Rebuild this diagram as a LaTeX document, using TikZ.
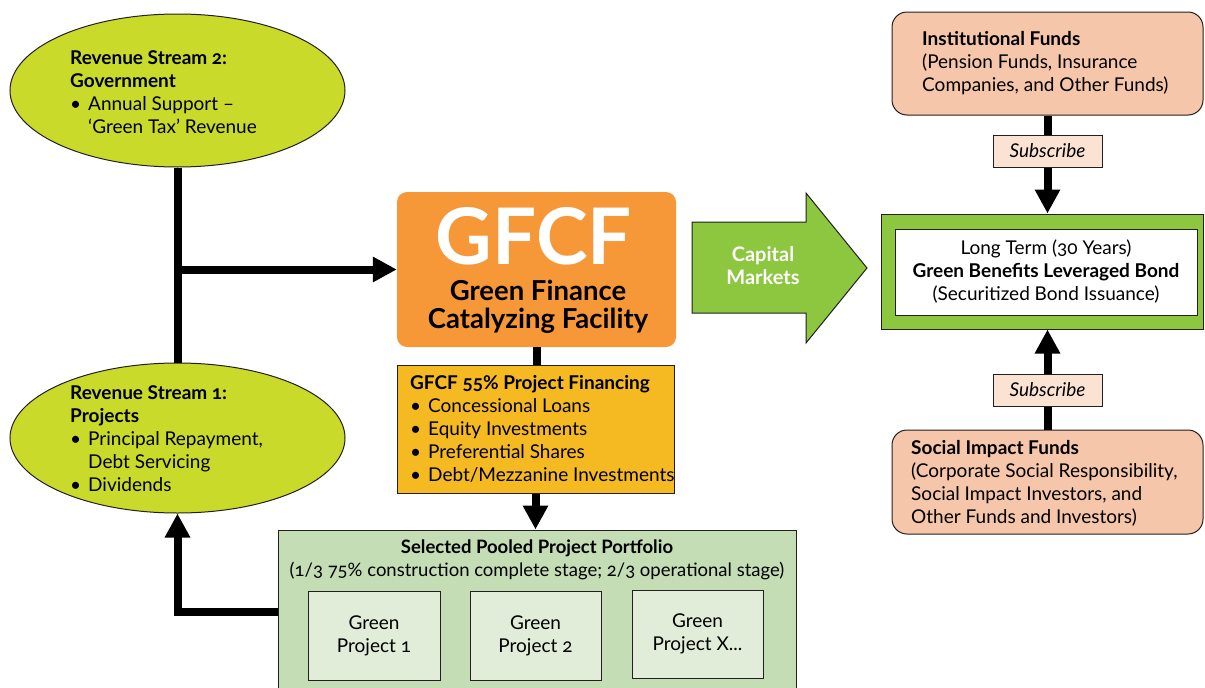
\documentclass[tikz,border=0pt]{standalone}
\usepackage{fontspec}
\setmainfont{Lato}[Numbers=OldStyle]
\usetikzlibrary{shapes.geometric,arrows.meta}

\definecolor{limefill}{HTML}{C9DA2A}
\definecolor{gfcforange}{HTML}{F79838}
\definecolor{finyellow}{HTML}{F5BA22}
\definecolor{poolgreen}{HTML}{C4DDB4}
\definecolor{projgreen}{HTML}{E1EDD8}
\definecolor{capgreen}{HTML}{8DC63F}
\definecolor{fundpeach}{HTML}{F5C6A9}
\definecolor{subpeach}{HTML}{FBE3D4}
\definecolor{edgegray}{HTML}{231F20}

\newcommand{\bul}{\makebox[18pt][l]{\textbullet}}
\newcommand{\hang}{\hspace*{18pt}}
\newcommand{\bodyfont}{\fontsize{19}{23}\selectfont}

\tikzset{
  flow/.style={line width=8pt},
  flowtip/.style={line width=8pt,-{Triangle[width=24pt,length=24pt]}},
  box/.style={draw=edgegray,line width=1pt,inner sep=0pt},
  txt/.style={inner sep=0pt,align=left,font=\bodyfont},
}

\begin{document}
\begin{tikzpicture}[x=1pt,y=1pt,yscale=-1,xscale=1]
\useasboundingbox (0,0) rectangle (1205,688);

%Ellipse revenue 2
    \node[box,ellipse,fill=limefill,minimum width=335pt,minimum height=153pt] (rev2) at (177.5,90.5) {};
%Ellipse revenue 1
    \node[box,ellipse,fill=limefill,minimum width=335pt,minimum height=150pt] (rev1) at (177.5,438) {};
%Rounded Rect GFCF
    \node[inner sep=0pt,fill=gfcforange,rounded corners=10pt,minimum width=279pt,minimum height=155pt] (gfcf) at (536.5,269.5) {};
%Rect financing
    \node[box,fill=finyellow,minimum width=277pt,minimum height=128pt] (fin) at (535.5,429) {};
%Rect pool
    \node[box,fill=poolgreen,minimum width=518pt,minimum height=164pt] (pool) at (537,612) {};
%Rect projects
    \node[box,fill=projgreen,minimum width=132pt,minimum height=89pt,align=center,font=\bodyfont] (proj1) at (374,635.5) {Green\\Project 1};
    \node[box,fill=projgreen,minimum width=131pt,minimum height=89pt,align=center,font=\bodyfont] (proj2) at (535.5,635.5) {Green\\Project 2};
    \node[box,fill=projgreen,minimum width=131pt,minimum height=88pt,align=center,font=\bodyfont] (projx) at (697.5,634) {Green\\Project X...};
%Right Arrow capital markets
    \draw[draw=edgegray,line width=1pt,fill=capgreen] (692,222) -- (806,222) -- (806,193) -- (867,268) -- (806,343) -- (806,313) -- (692,313) -- cycle;
%Rect bond
    \node[box,fill=capgreen,minimum width=322pt,minimum height=115pt] (bondout) at (1042,271.5) {};
    \node[box,fill=white,minimum width=302pt,minimum height=86pt,align=center,font=\bodyfont] (bond) at (1046,272) {Long Term (30 Years)\\\textbf{Green Benefits Leveraged Bond}\\(Securitized Bond Issuance)};
%Rounded Rect funds
    \node[box,fill=fundpeach,rounded corners=15pt,minimum width=311pt,minimum height=103pt] (inst) at (1047.5,63.5) {};
    \node[box,fill=fundpeach,rounded corners=15pt,minimum width=311pt,minimum height=104pt] (social) at (1047.5,482) {};

%Connectors
    \coordinate (junction) at (rev2.south |- gfcf.west);
    \draw[flow] (rev2.south) -- (rev1.north);
    \draw[flowtip] (junction) -- (gfcf.west);
    \draw[flowtip] (pool.west) -| (rev1.south);
    \draw[flow] (gfcf.south) -- (gfcf.south |- fin.north);
    \draw[flowtip] (fin.south) -- (fin.south |- pool.north);
    \draw[flowtip] (inst.south) -- (inst.south |- bondout.north);
    \draw[flowtip] (social.north) -- (social.north |- bondout.south);

%Subscribe labels
    \node[box,fill=subpeach,minimum width=109pt,minimum height=32pt,font=\bodyfont\itshape] (subtop) at (1047.5,151) {Subscribe};
    \node[box,fill=subpeach,minimum width=109pt,minimum height=32pt,font=\bodyfont\itshape] (subbot) at (1047.5,390) {Subscribe};

% Text Node
    \node[txt,anchor=west] (rev2txt) at (70,92) {\textbf{Revenue Stream 2:}\\\textbf{Government}\\\bul Annual Support –\\\hang ‘Green Tax’ Revenue};
% Text Node
    \node[txt,anchor=west] (rev1txt) at (70,439) {\textbf{Revenue Stream 1:}\\\textbf{Projects}\\\bul Principal Repayment,\\\hang Debt Servicing\\\bul Dividends};
% Text Node
    \node[inner sep=0pt,text=white,font=\fontsize{78}{78}\selectfont\bfseries] (gfcftitle) at (534,236) {GFCF};
% Text Node
    \node[inner sep=0pt,align=center,font=\fontsize{27.5}{28}\selectfont\bfseries] (gfcfsub) at (538,307) {Green Finance\\Catalyzing Facility};
% Text Node
    \node[txt,anchor=west] (fintxt) at (410,429) {\textbf{GFCF 55\% Project Financing}\\\bul Concessional Loans\\\bul Equity Investments\\\bul Preferential Shares\\\bul Debt/Mezzanine Investments};
% Text Node
    \node[inner sep=0pt,align=center,font=\fontsize{18.5}{23}\selectfont] (pooltxt) at (537,560) {\textbf{Selected Pooled Project Portfolio}\\(1/3 75\% construction complete stage; 2/3 operational stage)};
% Text Node
    \node[inner sep=0pt,align=center,text=white,font=\fontsize{20}{23}\selectfont\bfseries] (captxt) at (763,266) {Capital\\Markets};
% Text Node
    \node[txt,anchor=west] (insttxt) at (922,63) {\textbf{Institutional Funds}\\(Pension Funds, Insurance\\Companies, and Other Funds)};
% Text Node
    \node[txt,anchor=west] (socialtxt) at (911,483) {\textbf{Social Impact Funds}\\(Corporate Social Responsibility,\\Social Impact Investors, and\\Other Funds and Investors)};

\end{tikzpicture}
\end{document}
